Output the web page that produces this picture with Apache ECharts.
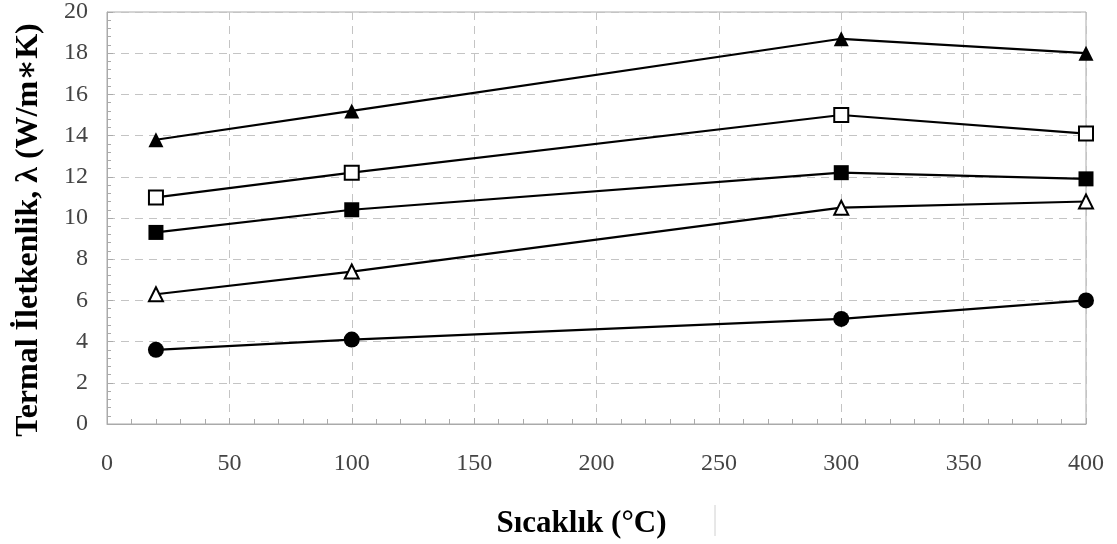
<!DOCTYPE html>
<html>
<head>
<meta charset="utf-8">
<script src="https://cdn.jsdelivr.net/npm/echarts@6/dist/echarts.min.js"></script>
<style>
html,body{margin:0;padding:0;background:#fff;}
#c{width:1117px;height:544px;}
</style>
</head>
<body>
<div id="c"></div>
<script>
const temps = [20, 100, 300, 400];
const seriesFilledTriangle = [13.8, 15.2, 18.7, 18.0];
const seriesOpenSquare = [11.0, 12.2, 15.0, 14.1];
const seriesFilledSquare = [9.3, 10.4, 12.2, 11.9];
const seriesOpenTriangle = [6.3, 7.4, 10.5, 10.8];
const seriesFilledCircle = [3.6, 4.1, 5.1, 6.0];
const xTitle = 'Sıcaklık (°C)';
const yTitle = 'Termal İletkenlik, λ (W/m∗K)';

function pairs(arr){ return temps.map((t,i)=>[t, arr[i]]); }

function mk(name, data, symbol, filled, size){
  return {
    name, type:'line', data: pairs(data),
    symbol, symbolSize: size,
    lineStyle:{color:'#000', width:2.2},
    itemStyle:{color: filled ? '#000' : '#fff', borderColor:'#000', borderWidth: filled ? 0 : 2},
    emphasis:{disabled:true},
    z: 3
  };
}

const serif = '"Liberation Serif", "DejaVu Serif", serif';
const chart = echarts.init(document.getElementById('c'), null, {renderer:'canvas'});
chart.setOption({
  animation:false,
  backgroundColor:'#fff',
  grid:{left:107, right:31, top:11, bottom:119, show:true, borderColor:'#aaa', borderWidth:1, backgroundColor:'transparent'},
  graphic:[{type:'line', shape:{x1:715, y1:505, x2:715, y2:536}, style:{stroke:'#d0d0d0', lineWidth:1}, silent:true}],
  xAxis:{
    type:'value', min:0, max:400, interval:50,
    name: xTitle, nameLocation:'middle', nameGap:84,
    nameTextStyle:{fontFamily:serif, fontWeight:'bold', fontSize:31, color:'#000', padding:[0,30,0,0]},
    axisLine:{show:true, lineStyle:{color:'#aaa', width:1}},
    axisTick:{show:true, inside:true, length:6, lineStyle:{color:'#aaa'}},
    minorTick:{show:true, splitNumber:5, length:5, lineStyle:{color:'#aaa'}},
    axisLabel:{fontFamily:serif, fontSize:24, color:'#444', margin:28},
    splitLine:{show:true, lineStyle:{color:'#c4c4c4', type:[8,6], width:1}}
  },
  yAxis:{
    type:'value', min:0, max:20, interval:2,
    name: yTitle, nameLocation:'middle', nameGap:62,
    nameTextStyle:{fontFamily:serif, fontWeight:'bold', fontSize:32, color:'#000', padding:[0,24,0,0]},
    axisLine:{show:true, lineStyle:{color:'#aaa', width:1}},
    axisTick:{show:true, inside:true, length:6, lineStyle:{color:'#aaa'}},
    minorTick:{show:true, splitNumber:5, length:4, lineStyle:{color:'#aaa'}},
    axisLabel:{fontFamily:serif, fontSize:24, color:'#444', margin:19},
    splitLine:{show:true, lineStyle:{color:'#c4c4c4', type:[8,6], width:1}}
  },
  series:[
    mk('A', seriesFilledTriangle, 'triangle', true, 15),
    mk('B', seriesOpenSquare, 'rect', false, 14),
    mk('C', seriesFilledSquare, 'rect', true, 15),
    mk('D', seriesOpenTriangle, 'triangle', false, 14),
    mk('E', seriesFilledCircle, 'circle', true, 16)
  ]
});
</script>
</body>
</html>
